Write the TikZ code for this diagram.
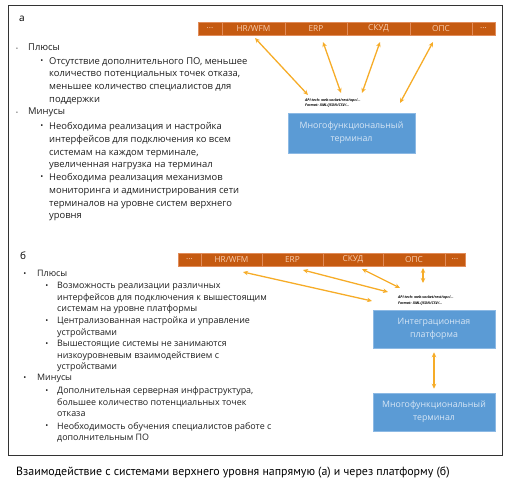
\documentclass[tikz,border=0pt]{standalone}
\usepackage{fontspec}
\setmainfont{Open Sans}
\newfontfamily\captionfont{PT Sans}
\usetikzlibrary{arrows.meta}
\definecolor{barorange}{RGB}{197,90,17}
\definecolor{barline}{RGB}{225,140,90}
\definecolor{celltext}{RGB}{248,205,175}
\definecolor{linkorange}{RGB}{246,172,40}
\definecolor{boxblue}{RGB}{91,155,213}
\definecolor{boxline}{RGB}{140,185,228}
\definecolor{boxtext}{RGB}{215,230,245}
\definecolor{textgray}{RGB}{30,30,30}
\tikzset{
  cell/.style={fill=barorange, draw=barline, line width=0.4pt, minimum height=13pt,
    inner sep=0pt, text=celltext, font=\fontsize{8.3}{9}\selectfont},
  unit/.style={fill=boxblue, draw=boxline, line width=0.5pt, text=boxtext, align=center,
    inner sep=0pt, font=\fontsize{8.8}{13}\selectfont},
  link/.style={{Stealth[length=5pt,width=4.5pt]}-{Stealth[length=5pt,width=4.5pt]},
    draw=linkorange, line width=1.3pt},
  api/.style={anchor=west, inner sep=0pt, align=left,
    font=\fontsize{3.6}{5.8}\selectfont\bfseries\itshape},
  itemA/.style={anchor=north west, inner sep=0pt, align=left, text=textgray,
    font=\fontsize{9.4}{12.8}\selectfont},
  itemB/.style={anchor=north west, inner sep=0pt, align=left, text=textgray,
    font=\fontsize{8.9}{11.5}\selectfont},
  dot/.style={inner sep=0pt, text=textgray, font=\fontsize{8}{8}\selectfont}
}
\begin{document}
\begin{tikzpicture}[x=1pt, y=-1pt]
\useasboundingbox (0,0) rectangle (511,483);
\draw [line width=0.9pt, black!80] (8,5) rectangle (502,455);

% panel a
\node [anchor=west, inner sep=0pt, font=\fontsize{10}{12}\selectfont] (labA) at (19,19) {а};
\node [cell, minimum width=24pt] (aDots1) at (210,28.5) {...};
\node [cell, minimum width=63pt] (aHR) at (253.5,28.5) {HR/WFM};
\node [cell, minimum width=62pt] (aERP) at (316,28.5) {ERP};
\node [cell, minimum width=63pt] (aSKUD) at (378.5,28.5) {СКУД};
\node [cell, minimum width=62pt] (aOPS) at (441,28.5) {ОПС};
\node [cell, minimum width=23pt] (aDots2) at (483.5,28.5) {...};

\node [unit, minimum width=127pt, minimum height=40pt] (aTerm) at (351.5,133)
  {Многофункциональный\\терминал};
\node [api] (aApi) at (305,103) {API tech: web-socket/rest/opc/...\\Format: XML/JSON/CSV/...};

\coordinate (a1s) at (255,38);  \coordinate (a1e) at (308,95);
\coordinate (a2s) at (323,42);  \coordinate (a2e) at (341,93);
\coordinate (a3s) at (380,42);  \coordinate (a3e) at (362,93);
\coordinate (a4s) at (433,42);  \coordinate (a4e) at (400,103);
\draw [link] (a1s) -- (a1e);
\draw [link] (a2s) -- (a2e);
\draw [link] (a3s) -- (a3e);
\draw [link] (a4s) -- (a4e);

\node [dot, font=\fontsize{5}{5}\selectfont] (aB1) at (17,49) {•};
\node [itemA] (aPlus) at (28,44) {Плюсы};
\node [dot] (aB2) at (42,62) {•};
\node [itemA] (aPlus1) at (49,57) {Отсутствие дополнительного ПО, меньшее\\количество потенциальных точек отказа,\\меньшее количество специалистов для\\поддержки};
\node [dot, font=\fontsize{5}{5}\selectfont] (aB3) at (17,113) {•};
\node [itemA] (aMinus) at (28,108) {Минусы};
\node [dot] (aB4) at (42,127) {•};
\node [itemA] (aMinus1) at (49,122) {Необходима реализация и настройка\\интерфейсов для подключения ко всем\\системам на каждом терминале,\\увеличенная нагрузка на терминал};
\node [dot] (aB5) at (42,178) {•};
\node [itemA] (aMinus2) at (49,173) {Необходима реализация механизмов\\мониторинга и администрирования сети\\терминалов на уровне систем верхнего\\уровня};

% panel b
\node [anchor=west, inner sep=0pt, font=\fontsize{10}{12}\selectfont] (labB) at (20,256) {б};
\node [cell, minimum width=23pt] (bDots1) at (189.5,259.5) {...};
\node [cell, minimum width=61pt] (bHR) at (231.5,259.5) {HR/WFM};
\node [cell, minimum width=61pt] (bERP) at (292.5,259.5) {ERP};
\node [cell, minimum width=60pt] (bSKUD) at (353,259.5) {СКУД};
\node [cell, minimum width=62pt] (bOPS) at (414,259.5) {ОПС};
\node [cell, minimum width=20pt] (bDots2) at (455,259.5) {...};

\node [unit, minimum width=122pt, minimum height=38pt] (bPlat) at (434,329)
  {Интеграционная\\платформа};
\node [unit, minimum width=122pt, minimum height=38pt] (bTerm) at (434,412)
  {Многофункциональный\\терминал};
\node [api] (bApi) at (398,300.5) {API tech: web-socket/rest/opc/...\\Format: XML/JSON/CSV/...};

\coordinate (b1s) at (243,272);  \coordinate (b1e) at (372,301);
\coordinate (b2s) at (303,270);  \coordinate (b2e) at (388,292);
\coordinate (b3s) at (362,269);  \coordinate (b3e) at (400,288);
\coordinate (b4s) at (423,268);  \coordinate (b4e) at (423,283);
\draw [link] (b1s) -- (b1e);
\draw [link] (b2s) -- (b2e);
\draw [link] (b3s) -- (b3e);
\draw [link] (b4s) -- (b4e);
\draw [link, shorten <=4pt, shorten >=4pt] (bPlat) -- (bTerm);

\node [dot] (bB1) at (25,275) {•};
\node [itemB] (bPlus) at (37,270) {Плюсы};
\node [dot] (bB2) at (47,287) {•};
\node [itemB] (bPlus1) at (57,282) {Возможность реализации различных\\интерфейсов для подключения к вышестоящим\\системам на уровне платформы};
\node [dot] (bB3) at (47,322) {•};
\node [itemB] (bPlus2) at (57,317) {Централизованная настройка и управление\\устройствами};
\node [dot] (bB4) at (47,345) {•};
\node [itemB] (bPlus3) at (57,340) {Вышестоящие системы не занимаются\\низкоуровневым взаимодействием с\\устройствами};
\node [dot] (bB5) at (25,379) {•};
\node [itemB] (bMinus) at (37,374) {Минусы};
\node [dot] (bB6) at (47,392) {•};
\node [itemB] (bMinus1) at (57,387) {Дополнительная серверная инфраструктура,\\большее количество потенциальных точек\\отказа};
\node [dot] (bB7) at (47,427) {•};
\node [itemB] (bMinus2) at (57,422) {Необходимость обучения специалистов работе с\\дополнительным ПО};

% caption
\node [anchor=west, inner sep=0pt, text=black, font=\captionfont\fontsize{11.9}{13}\selectfont] (cap) at (16,472)
  {Взаимодействие с системами верхнего уровня напрямую (а) и через платформу (б)};
\end{tikzpicture}
\end{document}
